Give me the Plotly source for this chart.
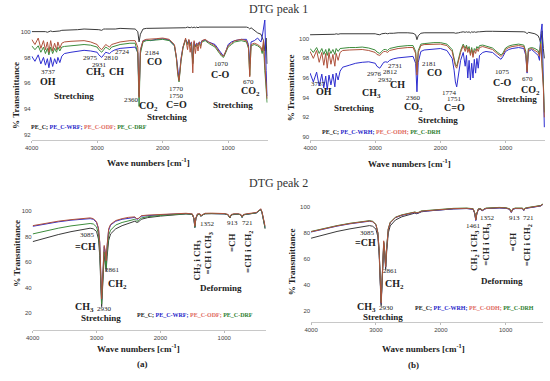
import plotly.graph_objects as go

W, H = 550, 381

# ---------------- DATA ----------------
WN_PEAK1 = [4000, 3950, 3900, 3860, 3820, 3790, 3760, 3737, 3710, 3680, 3650, 3620, 3600, 3570, 3540,
            3500, 3400, 3300, 3200, 3100, 3000, 2975, 2931, 2900, 2870, 2840, 2810, 2780, 2724, 2650,
            2500, 2420, 2380, 2360, 2340, 2300, 2250, 2184, 2100, 2000, 1900, 1820, 1790, 1770, 1750,
            1720, 1690, 1650, 1620, 1600, 1580, 1560, 1540, 1520, 1500, 1480, 1460, 1440, 1420, 1400,
            1350, 1300, 1200, 1130, 1100, 1070, 1040, 1000, 950, 900, 800, 720, 690, 670, 650,
            600, 550, 500, 480, 460, 440, 420, 405]

# DTG peak 1 (a)
A1_PE_C = [100.0, 100.0, 100.05, 100.0, 100.05, 100.0, 99.95, 100.0, 100.05, 100.0, 100.0, 100.05, 100.0, 100.05, 100.1,
           100.1, 100.15, 100.15, 100.2, 100.2, 100.2, 100.15, 100.1, 100.2, 100.2, 100.2, 100.15, 100.2, 100.2, 100.25,
           100.25, 100.2, 100.0, 99.2, 99.8, 100.2, 100.25, 100.25, 100.3, 100.3, 100.3, 100.3, 100.3, 100.25, 100.25,
           100.3, 100.3, 100.3, 100.35, 100.3, 100.3, 100.35, 100.3, 100.35, 100.3, 100.35, 100.3, 100.35, 100.35, 100.35,
           100.35, 100.4, 100.4, 100.4, 100.4, 100.35, 100.4, 100.4, 100.4, 100.4, 100.4, 100.35, 100.3, 100.2, 100.3,
           100.1, 99.9, 99.8, 99.6, 99.3, 98.5, 99.5, 97.5]
A1_WRF = [98.1, 97.7, 98.2, 97.5, 98.0, 97.4, 97.9, 97.2, 98.0, 97.3, 97.9, 97.5, 98.0, 97.6, 98.1,
          98.3, 98.4, 98.5, 98.55, 98.5, 98.4, 98.2, 98.0, 98.2, 98.4, 98.35, 98.3, 98.45, 98.6, 98.7,
          98.8, 98.8, 98.4, 95.0, 98.5, 99.3, 99.35, 99.3, 99.4, 99.45, 99.35, 98.9, 98.0, 96.9, 96.3,
          97.9, 98.8, 99.4, 99.1, 99.35, 99.0, 99.2, 97.6, 99.2, 98.9, 99.1, 99.0, 99.2, 99.1, 99.3,
          99.35, 99.2, 99.0, 98.5, 98.3, 98.1, 98.4, 99.0, 99.2, 99.3, 99.4, 99.4, 99.0, 97.5, 99.2,
          99.3, 99.5, 99.2, 99.6, 100.2, 100.9, 97.0, 95.0]
A1_ODF = [99.4, 99.0, 99.5, 98.7, 99.3, 98.6, 99.2, 98.4, 99.3, 98.5, 99.1, 98.6, 99.2, 98.7, 99.1,
          99.2, 99.25, 99.3, 99.3, 99.2, 99.0, 98.8, 98.6, 98.8, 99.0, 98.9, 98.8, 99.0, 99.1, 99.2,
          99.3, 99.3, 98.8, 94.9, 98.6, 99.3, 99.4, 99.4, 99.45, 99.5, 99.4, 99.0, 98.0, 96.8, 96.2,
          97.8, 98.8, 99.5, 98.6, 99.4, 98.4, 99.2, 96.8, 99.3, 98.3, 99.1, 98.5, 99.2, 98.7, 99.3,
          99.4, 99.2, 98.9, 98.4, 98.2, 98.1, 98.4, 98.9, 99.1, 99.3, 99.4, 99.3, 98.8, 96.5, 99.0,
          99.1, 99.0, 98.8, 98.5, 99.3, 97.5, 96.0, 94.8]
A1_DRF = [98.9, 98.6, 98.9, 98.4, 98.8, 98.3, 98.7, 98.2, 98.8, 98.3, 98.7, 98.4, 98.8, 98.5, 98.8,
          98.85, 98.9, 98.95, 99.0, 98.95, 98.8, 98.6, 98.4, 98.6, 98.8, 98.7, 98.6, 98.8, 98.9, 99.0,
          99.1, 99.1, 98.3, 94.2, 98.3, 99.2, 99.3, 99.3, 99.35, 99.4, 99.3, 98.9, 97.9, 96.7, 96.1,
          97.7, 98.7, 99.4, 99.0, 99.3, 98.9, 99.1, 97.5, 99.1, 98.8, 99.0, 98.9, 99.1, 98.9, 99.2,
          99.3, 99.1, 98.8, 98.3, 98.1, 98.0, 98.3, 98.8, 99.0, 99.2, 99.3, 99.2, 98.7, 96.6, 98.9,
          99.0, 98.9, 98.7, 98.3, 99.0, 97.0, 95.5, 94.5]

# DTG peak 1 (b)
B1_PE_C = [100.4, 100.4, 100.45, 100.4, 100.45, 100.4, 100.4, 100.45, 100.4, 100.45, 100.45, 100.45, 100.5, 100.45, 100.5,
           100.5, 100.5, 100.55, 100.55, 100.55, 100.5, 100.45, 100.4, 100.5, 100.55, 100.55, 100.5, 100.55, 100.55, 100.6,
           100.6, 100.55, 100.4, 99.9, 100.3, 100.55, 100.6, 100.6, 100.6, 100.65, 100.65, 100.65, 100.6, 100.55, 100.55,
           100.6, 100.65, 100.7, 100.65, 100.7, 100.65, 100.7, 100.6, 100.7, 100.65, 100.7, 100.65, 100.7, 100.7, 100.7,
           100.75, 100.75, 100.75, 100.75, 100.75, 100.7, 100.75, 100.75, 100.75, 100.75, 100.7, 100.7, 100.65, 100.5, 100.65,
           100.6, 100.5, 100.3, 100.0, 99.5, 100.8, 99.0, 98.0]
B1_WRH = [96.5, 95.6, 96.6, 95.2, 96.4, 95.0, 96.2, 94.8, 96.3, 95.3, 96.4, 95.1, 96.5, 95.8, 96.7,
          97.1, 97.3, 97.5, 97.6, 97.65, 97.5, 97.2, 97.0, 97.3, 97.6, 97.65, 97.6, 97.8, 97.95, 98.05,
          98.15, 98.2, 97.5, 94.6, 97.6, 98.7, 98.85, 98.9, 98.95, 99.0, 98.8, 98.0, 96.8, 95.6, 95.1,
          96.3, 97.8, 98.6, 97.2, 98.3, 96.0, 97.8, 95.8, 97.5, 96.0, 97.9, 96.5, 98.0, 97.0, 98.3,
          98.6, 98.7, 98.6, 98.2, 98.0, 97.9, 98.2, 98.7, 98.9, 99.0, 99.1, 99.0, 98.3, 96.5, 98.7,
          98.9, 98.6, 98.3, 97.8, 100.5, 101.5, 93.0, 91.0]
B1_ODH = [98.7, 98.0, 98.8, 97.6, 98.6, 97.3, 98.5, 97.0, 98.6, 97.4, 98.4, 97.2, 98.5, 97.8, 98.6,
          98.8, 98.85, 98.9, 98.9, 98.8, 98.6, 98.4, 98.3, 98.5, 98.7, 98.7, 98.6, 98.8, 98.9, 99.0,
          99.1, 99.1, 98.5, 96.3, 98.6, 99.3, 99.4, 99.4, 99.45, 99.45, 99.3, 98.7, 97.8, 97.2, 97.0,
          97.8, 98.6, 99.3, 98.7, 99.2, 98.6, 99.0, 98.3, 98.9, 98.1, 98.8, 98.5, 99.0, 98.7, 99.1,
          99.2, 99.1, 98.9, 98.5, 98.3, 98.2, 98.4, 98.9, 99.1, 99.2, 99.3, 99.2, 98.5, 96.6, 98.9,
          99.0, 98.8, 98.6, 98.2, 99.5, 97.0, 95.0, 92.0]
B1_DRH = [99.0, 98.6, 99.1, 98.5, 99.0, 98.4, 98.9, 98.3, 99.0, 98.5, 98.9, 98.4, 99.0, 98.7, 99.0,
          99.05, 99.1, 99.1, 99.15, 99.05, 98.85, 98.65, 98.5, 98.7, 98.9, 98.9, 98.8, 99.0, 99.1, 99.2,
          99.3, 99.3, 98.7, 96.6, 98.8, 99.45, 99.5, 99.55, 99.6, 99.6, 99.45, 98.9, 98.0, 97.4, 97.2,
          98.0, 98.8, 99.45, 99.0, 99.35, 98.9, 99.2, 98.5, 99.1, 98.4, 99.0, 98.8, 99.2, 99.0, 99.3,
          99.35, 99.25, 99.05, 98.65, 98.45, 98.35, 98.55, 99.05, 99.25, 99.35, 99.45, 99.35, 98.7, 96.8, 99.0,
          99.1, 99.0, 98.8, 98.4, 99.7, 97.5, 95.5, 92.5]

WN_PEAK2 = [4000, 3800, 3600, 3400, 3200, 3100, 3050, 3000, 2970, 2950, 2920, 2895, 2880, 2865, 2850,
            2835, 2810, 2780, 2700, 2600, 2500, 2400, 2370, 2340, 2300, 2200, 2000, 1800, 1600, 1500,
            1475, 1461, 1445, 1420, 1380, 1370, 1352, 1330, 1300, 1200, 1100, 1000, 940, 913, 890,
            850, 780, 740, 721, 700, 650, 600, 550, 500, 460, 430, 410, 400, 380, 360]

# DTG peak 2 (a)
A2_PE_C = [76.0, 79.0, 81.5, 83.8, 85.7, 86.5, 86.0, 84.0, 78.0, 65.0, 25.0, 52.0, 65.0, 60.0, 53.0,
           64.0, 77.0, 82.0, 86.0, 88.5, 90.5, 92.0, 91.0, 91.5, 93.5, 94.8, 96.0, 97.0, 97.7, 97.3,
           94.0, 87.5, 94.0, 97.2, 97.3, 96.0, 96.3, 97.3, 97.8, 97.9, 98.0, 97.8, 97.0, 94.5, 97.0,
           97.4, 97.5, 97.0, 95.0, 97.0, 97.5, 98.0, 98.0, 98.5, 100.0, 101.0, 99.0, 96.0, 90.0, 86.0]
A2_WRF = [88.0, 90.0, 91.5, 92.8, 93.8, 94.0, 93.5, 91.0, 86.0, 75.0, 30.0, 60.0, 72.0, 68.0, 60.0,
          72.0, 85.0, 89.0, 92.0, 93.5, 94.5, 95.0, 93.5, 94.0, 96.0, 96.5, 97.0, 97.5, 98.0, 97.5,
          94.0, 87.0, 94.0, 97.5, 97.5, 96.0, 96.5, 97.5, 98.0, 98.0, 98.0, 97.8, 97.0, 94.5, 97.0,
          97.5, 97.5, 97.0, 95.0, 97.0, 97.5, 98.0, 98.0, 98.5, 100.0, 101.5, 99.0, 96.0, 90.0, 87.0]
A2_ODF = [88.5, 90.5, 92.0, 93.2, 94.3, 94.6, 94.0, 91.5, 86.5, 76.0, 31.0, 62.0, 73.0, 69.0, 61.0,
          73.0, 86.0, 89.5, 92.5, 94.0, 95.0, 95.4, 93.8, 94.3, 96.3, 96.8, 97.3, 97.8, 98.2, 97.7,
          94.5, 88.0, 94.5, 97.8, 97.8, 96.3, 96.8, 97.8, 98.2, 98.3, 98.3, 98.0, 97.3, 95.0, 97.3,
          97.8, 97.8, 97.3, 95.5, 97.3, 97.8, 98.3, 98.3, 98.8, 100.3, 101.8, 99.5, 96.5, 91.0, 88.0]
A2_DRF = [82.0, 84.5, 86.5, 88.3, 89.7, 90.2, 89.8, 87.5, 82.0, 70.0, 27.0, 55.0, 68.0, 63.0, 55.0,
          68.0, 81.0, 85.0, 89.0, 91.0, 92.5, 93.5, 92.0, 92.5, 94.5, 95.5, 96.5, 97.2, 97.8, 97.4,
          94.0, 87.0, 94.0, 97.3, 97.4, 96.0, 96.4, 97.4, 97.9, 98.0, 98.0, 97.8, 97.0, 94.5, 97.0,
          97.5, 97.5, 97.0, 95.0, 97.0, 97.5, 98.0, 98.0, 98.5, 100.0, 101.2, 99.0, 96.0, 90.0, 86.5]

# DTG peak 2 (b)
B2_PE_C = [76.0, 78.8, 81.2, 83.2, 85.0, 85.7, 85.2, 83.0, 77.0, 63.0, 24.0, 58.0, 70.0, 63.0, 52.0,
           65.0, 80.0, 85.5, 90.0, 92.5, 94.0, 95.3, 94.8, 95.2, 96.3, 97.0, 98.0, 98.6, 98.9, 98.4,
           95.0, 90.0, 95.0, 98.4, 98.4, 97.4, 97.4, 98.4, 98.9, 99.2, 99.4, 99.2, 98.4, 96.0, 98.4,
           98.9, 99.2, 98.9, 97.5, 98.9, 99.4, 99.9, 100.2, 100.4, 101.0, 102.0, 102.5, 101.0, 100.0, 99.0]
B2_WRH = [80.8, 83.3, 85.3, 87.1, 88.6, 89.1, 88.6, 86.3, 79.8, 65.8, 25.8, 61.5, 72.5, 65.5, 53.8,
          67.8, 82.8, 87.8, 91.8, 93.6, 94.8, 95.8, 95.3, 95.6, 96.6, 97.1, 98.1, 98.6, 98.8, 98.3,
          94.5, 89.5, 94.5, 98.3, 98.3, 97.3, 97.3, 98.3, 98.8, 99.1, 99.3, 99.1, 98.3, 95.8, 98.3,
          98.8, 99.1, 98.8, 97.3, 98.8, 99.3, 99.8, 100.1, 100.3, 100.8, 101.8, 102.3, 100.8, 99.8, 98.8]
B2_ODH = [81.0, 83.5, 85.5, 87.3, 88.8, 89.3, 88.8, 86.5, 80.0, 66.0, 26.0, 64.0, 74.0, 66.0, 54.0,
          68.0, 83.0, 88.0, 92.0, 93.8, 95.0, 96.0, 95.5, 95.8, 96.8, 97.3, 98.3, 98.8, 99.0, 98.5,
          95.0, 90.0, 95.0, 98.5, 98.5, 97.5, 97.5, 98.5, 99.0, 99.3, 99.5, 99.3, 98.5, 96.0, 98.5,
          99.0, 99.3, 99.0, 97.5, 99.0, 99.5, 100.0, 100.3, 100.5, 101.0, 102.0, 102.5, 101.0, 100.0, 99.0]
B2_DRH = [81.2, 83.7, 85.7, 87.5, 89.0, 89.5, 89.0, 86.7, 80.2, 66.2, 26.5, 62.0, 73.0, 66.5, 54.5,
          68.5, 83.2, 88.2, 92.2, 94.0, 95.2, 96.2, 95.7, 96.0, 97.0, 97.5, 98.5, 99.0, 99.2, 98.7,
          95.2, 90.5, 95.2, 98.7, 98.7, 97.7, 97.7, 98.7, 99.2, 99.5, 99.7, 99.5, 98.7, 96.2, 98.7,
          99.2, 99.5, 99.2, 97.7, 99.2, 99.7, 100.2, 100.5, 100.7, 101.2, 102.2, 102.7, 101.2, 100.2, 99.2]

NAMES_A = ["PE_C", "PE_C-WRF", "PE_C-ODF", "PE_C-DRF"]
NAMES_B = ["PE_C", "PE_C-WRH", "PE_C-ODH", "PE_C-DRH"]
X_TICKS = [4000, 3000, 2000, 1000]
Y_TICKS_P1A = [92, 94, 96, 98, 100]
Y_TICKS_P1B = [90, 92, 94, 96, 98, 100]
Y_TICKS_P2 = [20, 40, 60, 80, 100]

# ---------------- STYLE ----------------
C_PE = "#3a3a3a"
C_W = "#2e2ed0"
C_O = "#b0523c"
C_D = "#3c8c3c"
LEG_COL = ["#222222", "#2424c8", "#e06a60", "#2e8030"]
SERIF = "Liberation Serif"

fig = go.Figure()

panels = [
    ("x", "y", WN_PEAK1, [A1_PE_C, A1_WRF, A1_ODF, A1_DRF], NAMES_A),
    ("x2", "y2", WN_PEAK1, [B1_PE_C, B1_WRH, B1_ODH, B1_DRH], NAMES_B),
    ("x3", "y3", WN_PEAK2, [A2_PE_C, A2_WRF, A2_ODF, A2_DRF], NAMES_A),
    ("x4", "y4", WN_PEAK2, [B2_PE_C, B2_WRH, B2_ODH, B2_DRH], NAMES_B),
]
order = [0, 1, 3, 2]  # draw PE_C, WR, DR, OD
colors = [C_PE, C_W, C_O, C_D]
for xa, ya, wn, series, names in panels:
    for i in order:
        fig.add_trace(go.Scatter(x=wn, y=series[i], mode="lines", name=names[i],
                                 line=dict(color=colors[i], width=1), xaxis=xa, yaxis=ya,
                                 showlegend=False, hoverinfo="skip"))


def fx(px):
    return px / W


def fy(py):
    return 1 - py / H


def dom_x(a, b):
    return [fx(a), fx(b)]


def dom_y(top, bottom):
    return [fy(bottom), fy(top)]


axis_common = dict(showgrid=False, zeroline=False, tickfont=dict(family="Liberation Sans", size=6, color="#444"),
                   ticks="outside", ticklen=2, tickcolor="#bbb")
xcommon = dict(axis_common, tickvals=X_TICKS, showline=True, linecolor="#c8c8c8", linewidth=1)
ycommon = dict(axis_common, showline=False, ticks="")

fig.update_layout(
    width=W, height=H, margin=dict(l=0, r=0, t=0, b=0),
    paper_bgcolor="white", plot_bgcolor="white",
    xaxis=dict(xcommon, domain=dom_x(25, 264), range=[4000, 397], anchor="y"),
    yaxis=dict(ycommon, domain=dom_y(20, 140), range=[91.6, 100.9], tickvals=Y_TICKS_P1A, anchor="x"),
    xaxis2=dict(xcommon, domain=dom_x(307, 545), range=[4000, 394], anchor="y2"),
    yaxis2=dict(ycommon, domain=dom_y(20, 140), range=[89.7, 101.9], tickvals=Y_TICKS_P1B, anchor="x2"),
    xaxis3=dict(xcommon, domain=dom_x(26, 262), range=[4000, 352], anchor="y3"),
    yaxis3=dict(ycommon, domain=dom_y(205, 330), range=[6.7, 104.7], tickvals=Y_TICKS_P2, anchor="x3"),
    xaxis4=dict(xcommon, domain=dom_x(308, 543), range=[4000, 423], anchor="y4"),
    yaxis4=dict(ycommon, domain=dom_y(203, 322), range=[11.5, 103.1], tickvals=Y_TICKS_P2, anchor="x4"),
)

ann = []


def T(text, x, y, size=7, bold=False, angle=0, color="#222", family=SERIF):
    t = f"<b>{text}</b>" if bold else text
    ann.append(dict(text=t, x=fx(x), y=fy(y), xref="paper", yref="paper", showarrow=False,
                    textangle=angle, xanchor="center", yanchor="middle",
                    font=dict(family=family, size=size, color=color)))


def legend_text(names):
    parts = []
    for i, n in enumerate(names):
        sep = ";" if i < len(names) - 1 else ""
        parts.append(f"<span style='color:{LEG_COL[i]}'>{n}{sep}</span>")
    return "<b>" + " ".join(parts) + "</b>"


B = 9   # bold label size
N = 7   # number size

# Titles
T("DTG peak 1", 275, 9, size=12, color="#333")
T("DTG peak 2", 275, 183, size=12, color="#333")

# ----- panel a1 -----
T("3737", 42, 72, N); T("OH", 42, 81, 10, True)
T("Stretching", 68, 96, B, True)
T("2975", 85, 58, N); T("2931", 94, 65, N); T("CH<sub>3</sub>", 90, 72, 10, True)
T("2810", 106, 58, N); T("2724", 117, 52, N); T("CH", 111, 71, 10, True)
T("2184", 147, 53, N); T("CO", 149, 61, 10, True)
T("2360", 126, 100, N); T("CO<sub>2</sub>", 143, 106, 10, True)
T("1770", 172, 89, N); T("1750", 172, 96, N); T("C=O", 172, 104, 10, True)
T("Stretching", 162, 117, B, True)
T("1070", 217, 64, N); T("C-O", 216, 74, 10, True)
T("670", 245, 82, N); T("CO<sub>2</sub>", 247, 92, 10, True)
T("Stretching", 229, 105, B, True)
T(legend_text(NAMES_A), 83, 127, 6)
T("Wave numbers [cm<sup>-1</sup>]", 143, 162, 9, True)
T("% Transmittance", 9, 95, 9, True, -90)

# ----- panel b1 -----
T("3737", 316, 84, N); T("OH", 321, 92, 10, True)
T("Stretching", 351, 108, B, True)
T("2976", 372, 74, N); T("2932", 383, 80, N); T("CH<sub>3</sub>", 369, 93, 10, True)
T("2812", 388, 72, N); T("2731", 394, 66, N); T("CH", 396, 84, 10, True)
T("2181", 428, 64, N); T("CO", 433, 72, 10, True)
T("2360", 412, 98, N); T("CO<sub>2</sub>", 412, 108, 10, True)
T("1774", 448, 93, N); T("1751", 453, 99, N); T("C=O", 453, 108, 10, True)
T("Stretching", 437, 120, B, True)
T("1075", 502, 72, N); T("C-O", 502, 82, 10, True)
T("670", 527, 79, N); T("CO<sub>2</sub>", 530, 90, 10, True)
T("Stretching", 517, 99, B, True)
T(legend_text(NAMES_B), 379, 132, 6)
T("Wave numbers [cm<sup>-1</sup>]", 408, 163, 9, True)
T("% Transmittance", 288, 88, 9, True, -90)

# ----- panel a2 -----
T("3085", 82, 235, N); T("=CH", 80, 246, 10, True)
T("2861", 107, 270, N); T("CH<sub>2</sub>", 112, 284, 10, True)
T("CH<sub>3</sub>", 79, 307, 10, True); T("2930", 99, 309, N)
T("Stretching", 95, 318, B, True)
T("1352", 203, 224, N); T("913", 228, 223, N); T("721", 244, 223, N)
T("CH<sub>2</sub> i CH<sub>3</sub>", 192, 261, B, True, -90)
T("=CH i CH<sub>3</sub>", 204, 253, B, True, -90)
T("=CH", 228, 243, B, True, -90)
T("=CH i CH<sub>2</sub>", 244, 252, B, True, -90)
T("Deforming", 217, 288, B, True)
T(legend_text(NAMES_A), 190, 315, 6)
T("Wave numbers [cm<sup>-1</sup>]", 133, 348, 9, True)
T("(a)", 137, 364, 9, True)
T("% Transmittance", 10, 253, 9, True, -90)

# ----- panel b2 -----
T("3085", 365, 233, N); T("=CH", 363, 242, 10, True)
T("2861", 388, 271, N); T("CH<sub>2</sub>", 392, 284, 10, True)
T("CH<sub>3</sub>", 364, 307, 10, True); T("2930", 384, 308, N)
T("Stretching", 381, 317, B, True)
T("1461", 473, 226, N); T("1352", 487, 218, N); T("913", 514, 218, N); T("721", 528, 218, N)
T("CH<sub>2</sub> i CH<sub>3</sub>", 473, 251, B, True, -90)
T("=CH i CH<sub>3</sub>", 485, 245, B, True, -90)
T("=CH", 513, 242, B, True, -90)
T("=CH i CH<sub>2</sub>", 527, 245, B, True, -90)
T("Deforming", 501, 281, B, True)
T(legend_text(NAMES_B), 474, 308, 6)
T("Wave numbers [cm<sup>-1</sup>]", 422, 348, 9, True)
T("(b)", 412, 365, 9, True)
T("% Transmittance", 289, 262, 9, True, -90)

fig.update_layout(annotations=ann, hovermode=False)
# remove the default 8px page margin so the 550x381 figure fills the window exactly
fig.write_html("out.html", config={"displayModeBar": False},
               post_script="document.body.style.margin='0px';")
